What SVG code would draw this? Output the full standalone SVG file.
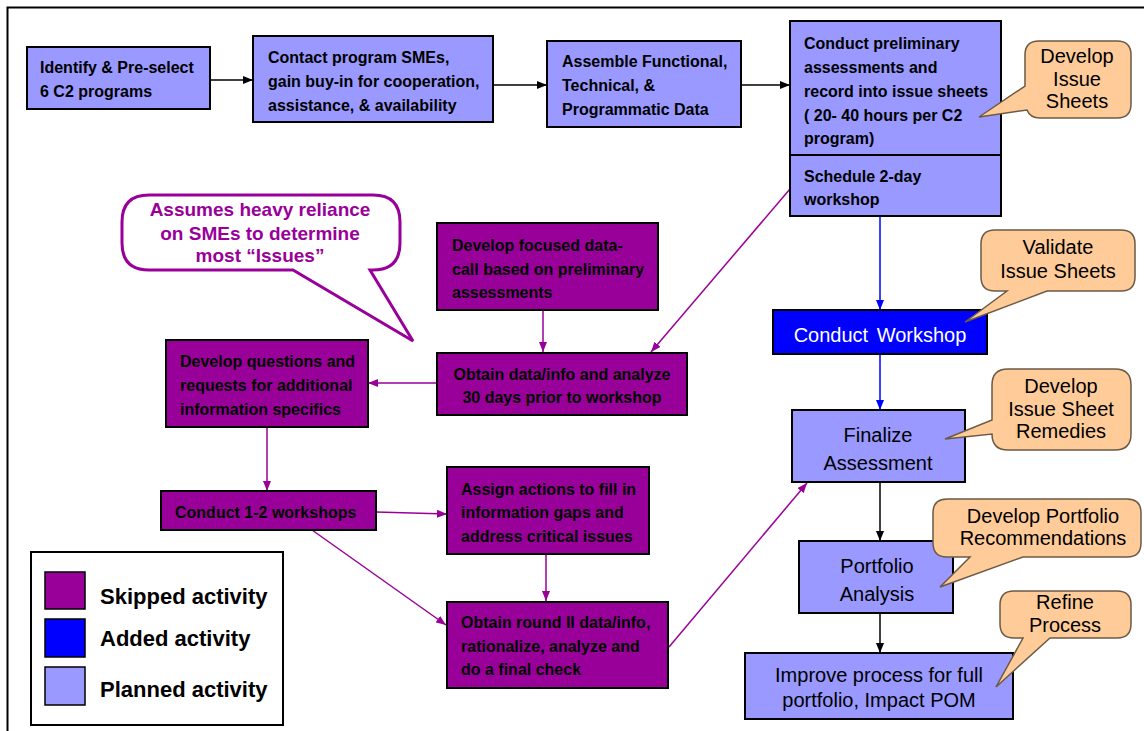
<svg xmlns="http://www.w3.org/2000/svg" width="1144" height="731" viewBox="0 0 1144 731">
  <defs>
    <style>
      .plan { fill: #9999FF; stroke: #000; stroke-width: 2; }
      .skip { fill: #990099; stroke: #000; stroke-width: 2; }
      .added { fill: #0000FF; stroke: #000; stroke-width: 2; }
      .note { fill: #FFCC99; stroke: #6b5a45; stroke-width: 1.5; }
      .bubble { fill: #FFFFFF; stroke: #990099; stroke-width: 3; }
      .t { font-family: "Liberation Sans", Arial, sans-serif; font-size: 16px; font-weight: bold; fill: #000; }
      .big { font-family: "Liberation Sans", Arial, sans-serif; font-size: 20px; fill: #000; }
      .mid { text-anchor: middle; }
      .white { fill: #FFFFFF; }
      .ptxt { font-family: "Liberation Sans", Arial, sans-serif; font-size: 19px; font-weight: bold; fill: #990099; text-anchor: middle; }
      .leg { font-family: "Liberation Sans", Arial, sans-serif; font-size: 22px; font-weight: bold; fill: #000; }
      .cb { fill: none; stroke: #000; stroke-width: 1.5; }
      .cp { fill: none; stroke: #990099; stroke-width: 1.5; }
      .cu { fill: none; stroke: #0000FF; stroke-width: 1.5; }
    </style>
    <marker id="ab" markerUnits="userSpaceOnUse" markerWidth="10" markerHeight="8" refX="10" refY="4" orient="auto">
      <path d="M0,0 L10,4 L0,8 z" fill="#000"/>
    </marker>
    <marker id="ap" markerUnits="userSpaceOnUse" markerWidth="10" markerHeight="8" refX="10" refY="4" orient="auto">
      <path d="M0,0 L10,4 L0,8 z" fill="#990099"/>
    </marker>
    <marker id="au" markerUnits="userSpaceOnUse" markerWidth="10" markerHeight="8" refX="10" refY="4" orient="auto">
      <path d="M0,0 L10,4 L0,8 z" fill="#0000FF"/>
    </marker>
  </defs>

  <rect x="0" y="0" width="1144" height="731" fill="#FFFFFF"/>
  <!-- outer frame -->
  <rect x="7.5" y="7.5" width="1160" height="740" fill="none" stroke="#000" stroke-width="2"/>

  <!-- connectors -->
  <g id="connectors">
    <line class="cb" x1="210" y1="80" x2="253" y2="80" marker-end="url(#ab)"/>
    <line class="cb" x1="493" y1="85" x2="547" y2="85" marker-end="url(#ab)"/>
    <line class="cb" x1="741" y1="85" x2="790" y2="85" marker-end="url(#ab)"/>
    <line class="cp" x1="790" y1="189" x2="651" y2="352" marker-end="url(#ap)"/>
    <line class="cp" x1="543" y1="310" x2="543" y2="352" marker-end="url(#ap)"/>
    <line class="cp" x1="437" y1="383" x2="368" y2="383" marker-end="url(#ap)"/>
    <line class="cp" x1="267" y1="427" x2="267" y2="491" marker-end="url(#ap)"/>
    <line class="cp" x1="376" y1="512" x2="447" y2="514" marker-end="url(#ap)"/>
    <line class="cp" x1="312" y1="530" x2="446" y2="625" marker-end="url(#ap)"/>
    <line class="cp" x1="546" y1="554" x2="546" y2="601" marker-end="url(#ap)"/>
    <line class="cp" x1="669" y1="647" x2="807" y2="483" marker-end="url(#ap)"/>
    <line class="cu" x1="880" y1="216" x2="880" y2="310" marker-end="url(#au)"/>
    <line class="cu" x1="880" y1="354" x2="880" y2="410" marker-end="url(#au)"/>
    <line class="cb" x1="880" y1="482" x2="880" y2="541" marker-end="url(#ab)"/>
    <line class="cb" x1="880" y1="613" x2="880" y2="653" marker-end="url(#ab)"/>
  </g>

  <!-- planned activities, top row -->
  <g id="identify">
    <rect class="plan" x="27" y="47" width="183" height="62"/>
    <text class="t" x="40" y="73">Identify &amp; Pre-select</text>
    <text class="t" x="40" y="97">6 C2 programs</text>
  </g>
  <g id="contact">
    <rect class="plan" x="253" y="36" width="240" height="86"/>
    <text class="t" x="268" y="63">Contact program SMEs,</text>
    <text class="t" x="268" y="87">gain buy-in for cooperation,</text>
    <text class="t" x="268" y="111">assistance, &amp; availability</text>
  </g>
  <g id="assemble">
    <rect class="plan" x="547" y="41" width="194" height="86"/>
    <text class="t" x="562" y="67">Assemble Functional,</text>
    <text class="t" x="562" y="91">Technical, &amp;</text>
    <text class="t" x="562" y="115">Programmatic Data</text>
  </g>
  <g id="preliminary">
    <rect class="plan" x="790" y="21" width="211" height="195"/>
    <line x1="790" y1="155" x2="1001" y2="155" stroke="#000" stroke-width="2"/>
    <text class="t" x="804" y="49">Conduct preliminary</text>
    <text class="t" x="804" y="73">assessments and</text>
    <text class="t" x="804" y="97">record into issue sheets</text>
    <text class="t" x="804" y="121">( 20- 40 hours per C2</text>
    <text class="t" x="804" y="144">program)</text>
    <text class="t" x="804" y="182">Schedule 2-day</text>
    <text class="t" x="804" y="205">workshop</text>
  </g>

  <!-- skipped activities -->
  <g id="datacall">
    <rect class="skip" x="437" y="223" width="221" height="87"/>
    <text class="t" x="452" y="251">Develop focused data-</text>
    <text class="t" x="452" y="275">call based on preliminary</text>
    <text class="t" x="452" y="298">assessments</text>
  </g>
  <g id="obtain">
    <rect class="skip" x="437" y="353" width="250" height="62"/>
    <text class="t mid" x="562" y="380">Obtain data/info and analyze</text>
    <text class="t mid" x="562" y="403">30 days prior to workshop</text>
  </g>
  <g id="questions">
    <rect class="skip" x="166" y="340" width="202" height="87"/>
    <text class="t" x="180" y="367">Develop questions and</text>
    <text class="t" x="180" y="391">requests for additional</text>
    <text class="t" x="180" y="415">information specifics</text>
  </g>
  <g id="workshops">
    <rect class="skip" x="161" y="491" width="215" height="39"/>
    <text class="t" x="175" y="518">Conduct 1-2 workshops</text>
  </g>
  <g id="assign">
    <rect class="skip" x="447" y="467" width="202" height="87"/>
    <text class="t" x="461" y="495">Assign actions to fill in</text>
    <text class="t" x="461" y="518">information gaps and</text>
    <text class="t" x="461" y="542">address critical issues</text>
  </g>
  <g id="round2">
    <rect class="skip" x="447" y="602" width="221" height="86"/>
    <text class="t" x="461" y="628">Obtain round II data/info,</text>
    <text class="t" x="461" y="652">rationalize, analyze and</text>
    <text class="t" x="461" y="675">do a final check</text>
  </g>

  <!-- right column -->
  <g id="workshop">
    <rect class="added" x="773" y="310" width="214" height="44"/>
    <text class="big mid white" x="880" y="342" style="word-spacing:3px">Conduct Workshop</text>
  </g>
  <g id="finalize">
    <rect class="plan" x="792" y="410" width="173" height="72"/>
    <text class="big mid" x="878" y="442">Finalize</text>
    <text class="big mid" x="878" y="470">Assessment</text>
  </g>
  <g id="portfolio">
    <rect class="plan" x="799" y="541" width="154" height="72"/>
    <text class="big mid" x="877" y="573">Portfolio</text>
    <text class="big mid" x="877" y="601">Analysis</text>
  </g>
  <g id="improve">
    <rect class="plan" x="745" y="653" width="268" height="66"/>
    <text class="big mid" x="879" y="682">Improve process for full</text>
    <text class="big mid" x="879" y="707">portfolio, Impact POM</text>
  </g>

  <!-- callouts -->
  <g id="note-develop">
    <path class="note" d="M1039,41 H1117 Q1131,41 1131,55 V104 Q1131,118 1117,118 H1040 Q1030,118 1027,110 L979,117 L1025,86 V55 Q1025,41 1039,41 Z"/>
    <text class="big mid" x="1077" y="63">Develop</text>
    <text class="big mid" x="1077" y="86">Issue</text>
    <text class="big mid" x="1077" y="108">Sheets</text>
  </g>
  <g id="note-validate">
    <path class="note" d="M995,230 H1121 Q1135,230 1135,244 V277 Q1135,291 1121,291 H1047 L965,322 L1007,291 H995 Q981,291 981,277 V244 Q981,230 995,230 Z"/>
    <text class="big mid" x="1058" y="254">Validate</text>
    <text class="big mid" x="1058" y="278">Issue Sheets</text>
  </g>
  <g id="note-remedies">
    <path class="note" d="M1008,369 H1115 Q1131,369 1131,385 V434 Q1131,450 1115,450 H1008 Q992,450 992,434 L945,439 L992,420 V385 Q992,369 1008,369 Z"/>
    <text class="big mid" x="1061" y="393">Develop</text>
    <text class="big mid" x="1061" y="416">Issue Sheet</text>
    <text class="big mid" x="1061" y="438">Remedies</text>
  </g>
  <g id="note-recommend">
    <path class="note" d="M947,499 H1127 Q1141,499 1141,513 V543 Q1141,557 1127,557 H1023 L940,587 L970,557 H947 Q933,557 933,543 V513 Q933,499 947,499 Z"/>
    <text class="big mid" x="1043" y="523">Develop Portfolio</text>
    <text class="big mid" x="1043" y="545">Recommendations</text>
  </g>
  <g id="note-refine">
    <path class="note" d="M1014,591 H1117 Q1131,591 1131,605 V624 Q1131,638 1117,638 H1050 L996,687 L1023,638 H1014 Q1000,638 1000,624 V605 Q1000,591 1014,591 Z"/>
    <text class="big mid" x="1065" y="609">Refine</text>
    <text class="big mid" x="1065" y="632">Process</text>
  </g>
  <g id="note-smes">
    <path class="bubble" d="M149,195 H373 Q400,195 400,222 V243 Q400,270 373,270 H370 L413,341 L293,270 H149 Q122,270 122,243 V222 Q122,195 149,195 Z"/>
    <text class="ptxt" x="260" y="216">Assumes heavy reliance</text>
    <text class="ptxt" x="260" y="240">on SMEs to determine</text>
    <text class="ptxt" x="260" y="262">most “Issues”</text>
  </g>

  <!-- legend -->
  <g id="legend">
    <rect x="31" y="552" width="252" height="173" fill="#FFFFFF" stroke="#000" stroke-width="2"/>
    <rect class="skip" x="45" y="572" width="40" height="37" style="stroke-width:1.5"/>
    <rect class="added" x="45" y="619" width="40" height="38" style="stroke-width:1.5"/>
    <rect class="plan" x="45" y="667" width="40" height="38" style="stroke-width:1.5"/>
    <text class="leg" x="100" y="604">Skipped activity</text>
    <text class="leg" x="100" y="646">Added activity</text>
    <text class="leg" x="100" y="697">Planned activity</text>
  </g>
</svg>
